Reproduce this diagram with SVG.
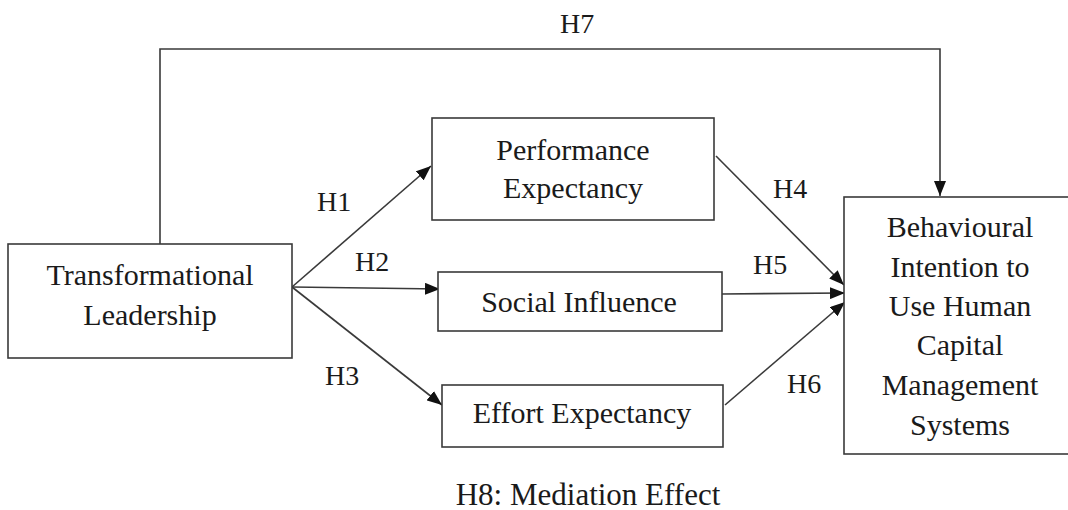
<svg xmlns="http://www.w3.org/2000/svg" width="1068" height="510" viewBox="0 0 1068 510">
<style>
.box{fill:#fff;stroke:#3a3a3a;stroke-width:1.6}
.t{font-family:"Liberation Serif","Times New Roman",serif;font-size:30px;fill:#1a1a1a;text-anchor:middle}
.l{font-family:"Liberation Serif","Times New Roman",serif;font-size:28px;fill:#1a1a1a}
.c{fill:none;stroke:#3a3a3a;stroke-width:1.6}
</style>
<defs>
<marker id="ah" markerUnits="userSpaceOnUse" markerWidth="16" markerHeight="12" refX="15" refY="6" orient="auto">
<path d="M0,0 L15,6 L0,12 z" fill="#111"/>
</marker>
</defs>
<rect width="1068" height="510" fill="#fff"/>
<g id="connectors">
<path class="c" d="M160,244 V49 H940 V196" marker-end="url(#ah)"/>
<line class="c" x1="292" y1="287" x2="431" y2="166" marker-end="url(#ah)"/>
<line class="c" x1="292" y1="287" x2="440" y2="289" marker-end="url(#ah)"/>
<line class="c" x1="292" y1="287" x2="442" y2="405" marker-end="url(#ah)"/>
<line class="c" x1="716" y1="156" x2="844" y2="285" marker-end="url(#ah)"/>
<line class="c" x1="722" y1="294" x2="845" y2="293" marker-end="url(#ah)"/>
<line class="c" x1="725" y1="405" x2="845" y2="302" marker-end="url(#ah)"/>
</g>
<g id="labels">
<text class="l" x="560" y="33">H7</text>
<text class="l" x="317" y="211">H1</text>
<text class="l" x="355" y="271">H2</text>
<text class="l" x="325" y="385">H3</text>
<text class="l" x="773" y="198">H4</text>
<text class="l" x="753" y="274">H5</text>
<text class="l" x="787" y="393">H6</text>
<text class="t" x="588" y="505" style="font-size:31px">H8: Mediation Effect</text>
</g>
<g id="tl">
<rect class="box" x="8" y="244" width="284" height="114"/>
<text class="t" x="150" y="285">Transformational</text>
<text class="t" x="150" y="325">Leadership</text>
</g>
<g id="pe">
<rect class="box" x="432" y="118" width="282" height="102"/>
<text class="t" x="573" y="160">Performance</text>
<text class="t" x="573" y="198">Expectancy</text>
</g>
<g id="si">
<rect class="box" x="438" y="272" width="284" height="59"/>
<text class="t" x="579" y="312">Social Influence</text>
</g>
<g id="ee">
<rect class="box" x="442" y="385" width="281" height="62"/>
<text class="t" x="582" y="423">Effort Expectancy</text>
</g>
<g id="bi">
<rect class="box" x="844" y="197" width="234" height="257"/>
<text class="t" x="960" y="237">Behavioural</text>
<text class="t" x="960" y="277">Intention to</text>
<text class="t" x="960" y="316">Use Human</text>
<text class="t" x="960" y="355">Capital</text>
<text class="t" x="960" y="395">Management</text>
<text class="t" x="960" y="435">Systems</text>
</g>
</svg>
